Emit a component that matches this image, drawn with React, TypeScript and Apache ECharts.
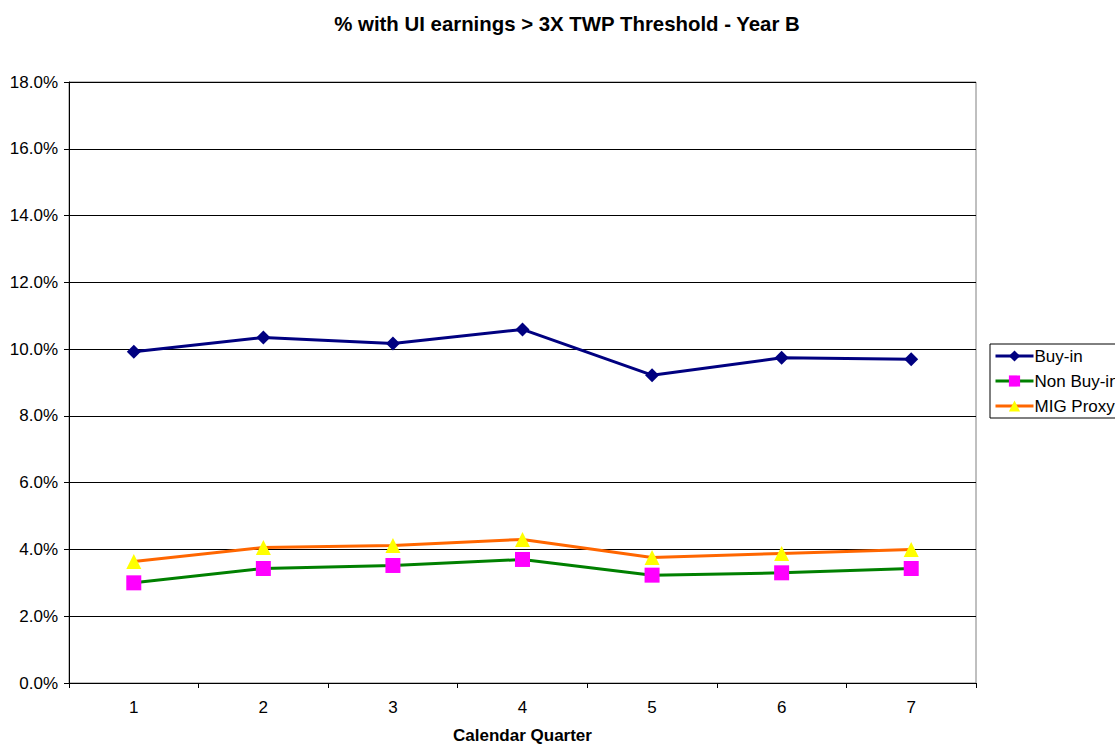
import React, { useEffect, useRef } from "react";
import * as echarts from "echarts";

const quarters = ["1", "2", "3", "4", "5", "6", "7"];
const buyIn = [9.92, 10.35, 10.17, 10.59, 9.22, 9.74, 9.7];
const nonBuyIn = [3.0, 3.43, 3.52, 3.7, 3.23, 3.3, 3.43];
const migProxy = [3.64, 4.06, 4.12, 4.3, 3.76, 3.88, 4.0];

export default function App() {
  const ref = useRef<HTMLDivElement>(null);
  useEffect(() => {
    if (!ref.current) return;
    const chart = echarts.init(ref.current, undefined, { renderer: "svg" });
    const font = "Arial, 'Liberation Sans', sans-serif";
    chart.setOption({
      animation: false,
      backgroundColor: "#ffffff",
      title: {
        text: "% with UI earnings > 3X TWP Threshold - Year B",
        left: 562,
        textAlign: "center",
        top: 9,
        textStyle: { fontFamily: font, fontSize: 20.4, fontWeight: "bold", color: "#000" },
      },
      grid: {
        left: 69,
        top: 82,
        right: 139,
        bottom: 62,
        outerBoundsMode: "none",
        containLabel: false,
        show: true,
        borderColor: "#808080",
        borderWidth: 1,
        backgroundColor: "#ffffff",
      },
      legend: {
        orient: "vertical",
        left: 990,
        top: 344,
        itemWidth: 38,
        itemHeight: 14,
        itemGap: 7,
        padding: [3, 12, 3, 4],
        borderColor: "#000",
        borderWidth: 1,
        lineStyle: { width: 3 },
        textStyle: { fontFamily: font, fontSize: 17, lineHeight: 18, color: "#000", padding: [0, 0, 0, -4] },
        data: ["Buy-in", "Non Buy-in", "MIG Proxy"],
      },
      xAxis: {
        type: "category",
        data: quarters,
        boundaryGap: true,
        name: "Calendar Quarter",
        nameLocation: "middle",
        nameGap: 44,
        nameTextStyle: { fontFamily: font, fontSize: 17, fontWeight: "bold", color: "#000" },
        axisLine: { lineStyle: { color: "#000", width: 1 } },
        axisTick: { show: true, alignWithLabel: false, length: 5, lineStyle: { color: "#000" } },
        axisLabel: { fontFamily: font, fontSize: 17, color: "#000", margin: 16 },
        splitLine: { show: false },
      },
      yAxis: {
        type: "value",
        min: 0,
        max: 18,
        interval: 2,
        axisLine: { show: true, lineStyle: { color: "#000", width: 1 } },
        axisTick: { show: true, length: 5, lineStyle: { color: "#000" } },
        axisLabel: {
          fontFamily: font,
          fontSize: 17,
          color: "#000",
          margin: 11,
          formatter: (v: number) => v.toFixed(1) + "%",
        },
        splitLine: { show: true, lineStyle: { color: "#000", width: 1 } },
      },
      series: [
        {
          name: "Buy-in",
          type: "line",
          data: buyIn,
          symbol: "diamond",
          symbolSize: 14,
          lineStyle: { color: "#000080", width: 3 },
          itemStyle: { color: "#000080" },
        },
        {
          name: "Non Buy-in",
          type: "line",
          data: nonBuyIn,
          symbol: "rect",
          symbolSize: 15,
          lineStyle: { color: "#008000", width: 3 },
          itemStyle: { color: "#ff00ff" },
        },
        {
          name: "MIG Proxy",
          type: "line",
          data: migProxy,
          symbol: "triangle",
          symbolSize: 15,
          lineStyle: { color: "#ff6600", width: 3 },
          itemStyle: { color: "#ffff00" },
        },
      ],
    });
    return () => chart.dispose();
  }, []);
  return <div ref={ref} style={{ width: 1115, height: 745, position: "absolute", left: 0, top: 0 }} />;
}
